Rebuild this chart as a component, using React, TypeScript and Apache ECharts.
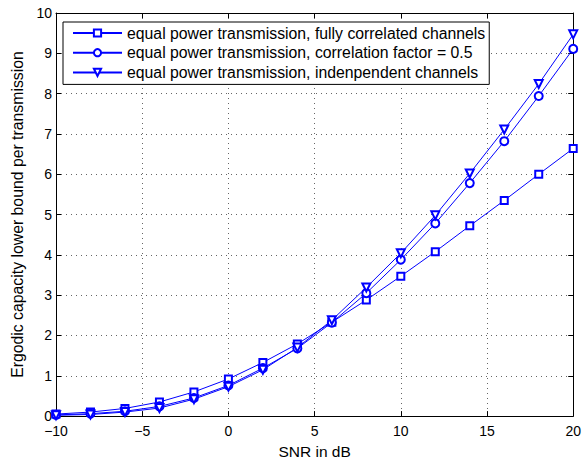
import React, { useEffect, useRef } from "react";
import * as echarts from "echarts";

const snr = [-10, -8, -6, -4, -2, 0, 2, 4, 6, 8, 10, 12, 14, 16, 18, 20];
const fullyCorrelated = [0.05, 0.1, 0.19, 0.35, 0.6, 0.92, 1.33, 1.79, 2.33, 2.88, 3.47, 4.08, 4.72, 5.35, 6.0, 6.64];
const corrHalf = [0.03, 0.06, 0.12, 0.24, 0.45, 0.76, 1.19, 1.68, 2.32, 3.05, 3.88, 4.78, 5.78, 6.82, 7.94, 9.11];
const independent = [0.02, 0.04, 0.1, 0.2, 0.42, 0.73, 1.15, 1.7, 2.38, 3.19, 4.04, 4.98, 6.02, 7.11, 8.24, 9.47];
const seriesNames = [
  "equal power transmission, fully correlated channels",
  "equal power transmission, correlation factor = 0.5",
  "equal power transmission, indenpendent channels",
];
const xTitle = "SNR in dB";
const yTitle = "Ergodic capacity lower bound per transmission";

const FONT = "'Liberation Sans', Arial, Helvetica, sans-serif";
const BLUE = "#0000ff";

export default function App() {
  const ref = useRef<HTMLDivElement>(null);
  useEffect(() => {
    if (!ref.current) return;
    const chart = echarts.init(ref.current, null, { renderer: "svg" });
    const mk = (name: string, vals: number[], symbol: string, rotate: number, size: number) => ({
      name,
      type: "line",
      xAxisIndex: 0,
      yAxisIndex: 0,
      data: snr.map((x, i) => [x, vals[i]]),
      symbol,
      symbolSize: size,
      symbolRotate: rotate,
      showAllSymbol: true,
      lineStyle: { color: BLUE, width: 1 },
      itemStyle: { color: BLUE, borderColor: BLUE, borderWidth: 1 },
      emphasis: { disabled: true },
    });
    const splitLine = { show: true, lineStyle: { color: "#666", type: [1, 4], width: 1 } };
    const minus = (v: number) => String(v).replace("-", "\u2212");
    chart.setOption({
      animation: false,
      textStyle: { fontFamily: FONT },
      grid: { left: 56, right: 9, top: 13, bottom: 42, show: false },
      legend: {
        orient: "vertical",
        left: 63,
        top: 22,
        padding: [3, 4, 4, 9],
        backgroundColor: "#fff",
        borderColor: "#000",
        borderWidth: 1,
        itemWidth: 49,
        itemHeight: 9,
        itemGap: 3.7,
        textStyle: { fontFamily: FONT, fontSize: 15.8, color: "#000" },
        data: seriesNames,
      },
      xAxis: [
        {
          type: "value",
          min: -10,
          max: 20,
          interval: 5,
          position: "bottom",
          name: xTitle,
          nameLocation: "middle",
          nameGap: 24,
          nameTextStyle: { fontSize: 15.5, color: "#000", fontFamily: FONT },
          axisLine: { show: true, onZero: false, lineStyle: { color: "#000", width: 1 } },
          axisTick: { show: true, inside: true, length: 5, lineStyle: { color: "#000" } },
          axisLabel: { fontSize: 14, color: "#000", margin: 8, fontFamily: FONT, formatter: minus },
          splitLine,
        },
        {
          type: "value",
          min: -10,
          max: 20,
          interval: 5,
          position: "top",
          axisLine: { show: true, onZero: false, lineStyle: { color: "#000", width: 1 } },
          axisTick: { show: true, inside: true, length: 5, lineStyle: { color: "#000" } },
          axisLabel: { show: false },
          splitLine: { show: false },
        },
      ],
      yAxis: [
        {
          type: "value",
          min: 0,
          max: 10,
          interval: 1,
          position: "left",
          name: yTitle,
          nameLocation: "middle",
          nameGap: 22,
          nameTextStyle: { fontSize: 15.8, color: "#000", fontFamily: FONT },
          axisLine: { show: true, onZero: false, lineStyle: { color: "#000", width: 1 } },
          axisTick: { show: true, inside: true, length: 5, lineStyle: { color: "#000" } },
          axisLabel: { fontSize: 14, color: "#000", margin: 4, fontFamily: FONT },
          splitLine,
        },
        {
          type: "value",
          min: 0,
          max: 10,
          interval: 1,
          position: "right",
          axisLine: { show: true, onZero: false, lineStyle: { color: "#000", width: 1 } },
          axisTick: { show: true, inside: true, length: 5, lineStyle: { color: "#000" } },
          axisLabel: { show: false },
          splitLine: { show: false },
        },
      ],
      series: [
        mk(seriesNames[0], fullyCorrelated, "emptyRect", 0, 7),
        mk(seriesNames[1], corrHalf, "emptyCircle", 0, 8),
        mk(seriesNames[2], independent, "emptyTriangle", 180, 8),
      ],
    });
    return () => chart.dispose();
  }, []);
  return (
    <div
      ref={ref}
      style={{ position: "absolute", left: 0, top: 0, width: 584, height: 464, background: "#fff" }}
    />
  );
}
